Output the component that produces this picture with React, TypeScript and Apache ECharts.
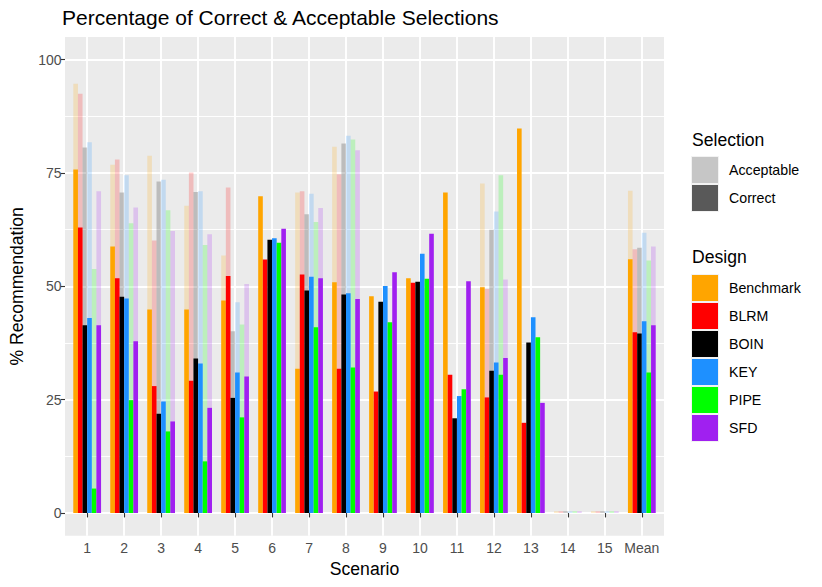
import React, { useEffect, useRef } from 'react';
import * as echarts from 'echarts';

const scenarios = ['1', '2', '3', '4', '5', '6', '7', '8', '9', '10', '11', '12', '13', '14', '15', 'Mean'];
const designs = ['Benchmark', 'BLRM', 'BOIN', 'KEY', 'PIPE', 'SFD'];
const designColors = ['#FFA500', '#FF0000', '#000000', '#1E90FF', '#00FF00', '#A020F0'];
const selections = ['Acceptable', 'Correct'];

const correctBenchmark = [75.8, 58.8, 44.9, 44.9, 46.9, 69.9, 31.8, 50.9, 47.8, 51.8, 70.7, 49.8, 84.8, 0, 0, 56.0];
const correctBLRM = [63.0, 51.8, 28.0, 29.2, 52.3, 55.9, 52.6, 31.8, 26.8, 50.8, 30.5, 25.5, 19.9, 0, 0, 39.9];
const correctBOIN = [41.4, 47.7, 21.9, 34.1, 25.4, 60.3, 49.1, 48.2, 46.6, 51.0, 20.9, 31.4, 37.6, 0, 0, 39.6];
const correctKEY = [43.0, 47.3, 24.6, 33.0, 31.0, 60.6, 52.1, 48.5, 50.1, 57.2, 25.8, 33.2, 43.2, 0, 0, 42.3];
const correctPIPE = [5.4, 24.9, 18.0, 11.4, 21.1, 59.6, 41.0, 32.1, 42.1, 51.7, 27.3, 30.5, 38.8, 0, 0, 31.0];
const correctSFD = [41.4, 37.9, 20.2, 23.2, 30.1, 62.7, 51.8, 47.2, 53.1, 61.6, 51.1, 34.2, 24.3, 0, 0, 41.4];

const acceptBenchmark = [94.7, 76.8, 78.8, 67.8, 56.8, null, 70.7, 80.8, null, null, null, 72.7, null, 0.4, 0.4, 71.1];
const acceptBLRM = [92.5, 78.0, 60.1, 75.1, 71.8, null, 71.0, 74.7, null, null, null, 49.4, null, 0.4, 0.4, 58.2];
const acceptBOIN = [80.6, 70.7, 73.1, 70.8, 40.1, null, 65.9, 81.5, null, null, null, 62.5, null, 0.4, 0.4, 58.5];
const acceptKEY = [81.8, 74.5, 73.5, 71.0, 46.5, null, 70.4, 83.2, null, null, null, 66.5, null, 0.4, 0.4, 61.8];
const acceptPIPE = [53.8, 63.9, 66.8, 59.1, 41.6, null, 64.2, 82.4, null, null, null, 74.5, null, 0.4, 0.4, 55.7];
const acceptSFD = [71.0, 67.4, 62.2, 61.5, 50.5, null, 67.3, 80.0, null, null, null, 51.5, null, 0.4, 0.4, 58.8];

const yTickLabels = [0, 25, 50, 75, 100];
const yMinorTicks = [12.5, 37.5, 62.5, 87.5];

const correctAll = [correctBenchmark, correctBLRM, correctBOIN, correctKEY, correctPIPE, correctSFD];
const acceptAll = [acceptBenchmark, acceptBLRM, acceptBOIN, acceptKEY, acceptPIPE, acceptSFD];

const FONT = '"Liberation Sans", Arial, Helvetica, sans-serif';

export default function App() {
  const ref = useRef<HTMLDivElement>(null);
  useEffect(() => {
    document.body.style.margin = '0';
    const chart = echarts.init(ref.current as HTMLDivElement, null, { renderer: 'svg' });
    const xTicks = scenarios.map((_, i) => i + 1);

    const series: any[] = [];
    designs.forEach((d, i) => {
      series.push({
        type: 'bar',
        name: d + ' (Acceptable)',
        xAxisIndex: 1,
        yAxisIndex: 0,
        z: 1,
        data: acceptAll[i].map((v, j) => [j + 1, v]),
        itemStyle: { color: designColors[i], opacity: 0.2 },
        barGap: '0%',
        barCategoryGap: '25%',
        silent: true,
      });
    });
    designs.forEach((d, i) => {
      series.push({
        type: 'bar',
        name: d,
        xAxisIndex: 0,
        yAxisIndex: 0,
        z: 3,
        data: correctAll[i].map((v, j) => [j + 1, v]),
        itemStyle: { color: designColors[i] },
        barGap: '0%',
        barCategoryGap: '25%',
        silent: true,
      });
    });

    const legendX = 692;
    const keySize = 26;
    const pitch = 28;
    const selTop = 157;
    const desTop = 275;
    const selKeyColors = ['#C6C6C6', '#595959'];
    const graphicChildren: any[] = [];
    graphicChildren.push({
      type: 'text', x: legendX, y: 140,
      style: { text: 'Selection', font: `17.6px ${FONT}`, fill: '#000', verticalAlign: 'middle' },
    });
    selections.forEach((s, k) => {
      graphicChildren.push({
        type: 'rect', shape: { x: legendX - 1, y: selTop - 1 + k * pitch, width: keySize + 2, height: keySize + 2 },
        style: { fill: '#F2F2F2' },
      });
      graphicChildren.push({
        type: 'rect', shape: { x: legendX, y: selTop + k * pitch, width: keySize, height: keySize },
        style: { fill: selKeyColors[k] },
      });
      graphicChildren.push({
        type: 'text', x: 729, y: selTop + k * pitch + keySize / 2,
        style: { text: s, font: `14.2px ${FONT}`, fill: '#000', verticalAlign: 'middle' },
      });
    });
    graphicChildren.push({
      type: 'text', x: legendX, y: 257,
      style: { text: 'Design', font: `17.6px ${FONT}`, fill: '#000', verticalAlign: 'middle' },
    });
    designs.forEach((d, k) => {
      graphicChildren.push({
        type: 'rect', shape: { x: legendX - 1, y: desTop - 1 + k * pitch, width: keySize + 2, height: keySize + 2 },
        style: { fill: '#F2F2F2' },
      });
      graphicChildren.push({
        type: 'rect', shape: { x: legendX, y: desTop + k * pitch, width: keySize, height: keySize },
        style: { fill: designColors[k] },
      });
      graphicChildren.push({
        type: 'text', x: 729, y: desTop + k * pitch + keySize / 2,
        style: { text: d, font: `14.2px ${FONT}`, fill: '#000', verticalAlign: 'middle' },
      });
    });

    const option: any = {
      animation: false,
      textStyle: { fontFamily: FONT },
      title: {
        text: 'Percentage of Correct & Acceptable Selections',
        left: 62,
        top: 7,
        padding: 0,
        textStyle: { fontSize: 21, fontWeight: 'normal', color: '#000', fontFamily: FONT },
      },
      grid: {
        left: 62.7, top: 37, width: 601.3, height: 498.7,
        show: true, backgroundColor: '#EBEBEB', borderWidth: 0,
      },
      xAxis: [
        {
          type: 'value', min: 0.4, max: 16.6, position: 'bottom',
          axisLine: { show: false },
          axisTick: { show: true, customValues: xTicks, length: 4.4, lineStyle: { color: '#333333', width: 1.1 } },
          axisLabel: {
            customValues: xTicks, color: '#4D4D4D', fontSize: 14, margin: 5.5, fontFamily: FONT,
            formatter: (v: number) => scenarios[Math.round(v) - 1],
          },
          splitLine: { show: true, lineStyle: { color: '#FFFFFF', width: 1.9 } },
          name: 'Scenario', nameLocation: 'middle', nameGap: 24,
          nameTextStyle: { fontSize: 17.6, color: '#000', fontFamily: FONT },
        },
        {
          type: 'value', min: 0.4, max: 16.6, position: 'top',
          axisLine: { show: false },
          axisTick: { show: false, customValues: xTicks },
          axisLabel: { show: false, customValues: xTicks },
          splitLine: { show: false },
        },
      ],
      yAxis: [
        {
          type: 'value', min: -5, max: 105,
          axisLine: { show: false },
          axisTick: { show: true, customValues: yTickLabels, length: 4.4, lineStyle: { color: '#333333', width: 1.1 } },
          axisLabel: { customValues: yTickLabels, color: '#4D4D4D', fontSize: 14, margin: 3.5, fontFamily: FONT },
          splitLine: { show: true, lineStyle: { color: '#FFFFFF', width: 1.9 } },
          name: '% Recommendation', nameLocation: 'middle', nameGap: 39, nameRotate: 90,
          nameTextStyle: { fontSize: 17.6, color: '#000', fontFamily: FONT },
        },
        {
          type: 'value', min: -5, max: 105, position: 'left',
          axisLine: { show: false },
          axisTick: { show: false, customValues: yMinorTicks },
          axisLabel: { show: false, customValues: yMinorTicks },
          splitLine: { show: true, lineStyle: { color: '#FFFFFF', width: 0.95 } },
        },
      ],
      series,
      graphic: [{ type: 'group', children: graphicChildren }],
    };
    chart.setOption(option);
    return () => chart.dispose();
  }, []);
  return <div ref={ref} style={{ width: 822, height: 587 }} />;
}
